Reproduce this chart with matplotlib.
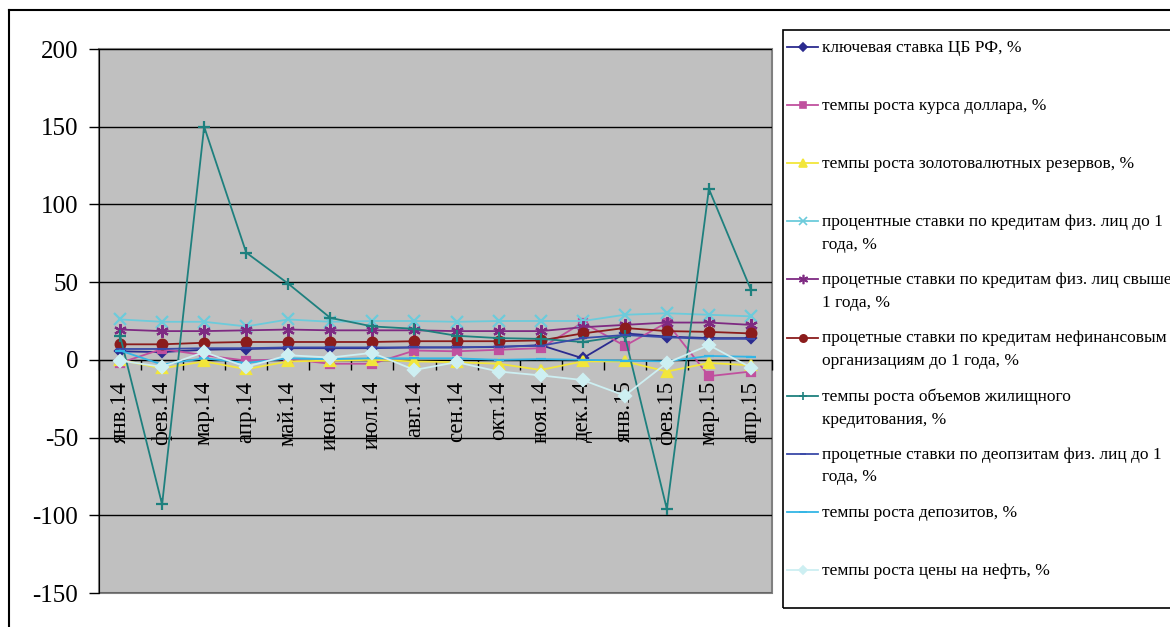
import numpy as np
import matplotlib.pyplot as plt
from matplotlib.lines import Line2D
from matplotlib.patches import Rectangle

plt.rcParams['font.family'] = ['Liberation Serif', 'DejaVu Serif']
plt.rcParams['axes.unicode_minus'] = False

months = ["янв.14", "фев.14", "мар.14", "апр.14", "май.14", "июн.14", "июл.14", "авг.14",
          "сен.14", "окт.14", "ноя.14", "дек.14", "янв.15", "фев.15", "мар.15", "апр.15"]

key_rate = [5.5, 5, 6.5, 7, 7.5, 7.5, 7.5, 8, 8, 8.25, 9.5, 1, 17, 15, 14, 14]
usd_growth = [-2, 7, 3, -0.5, 0.5, -2.5, -2.5, 6, 5.5, 6.5, 7.5, 24, 9, 24, -10.5, -7.5]
reserves_growth = [0, -5.5, -1, -6, -1, -0.5, 0, -1, -1.5, -2.5, -6.5, -1, -1, -7.5, -2, -3.5]
loans_short = [26, 24.5, 24.5, 21.5, 26, 24.5, 25, 25, 24.5, 25, 25, 25, 29, 30, 29, 28]
loans_long = [19.5, 18.5, 18.5, 19, 19.5, 19, 19, 19, 18.5, 18.5, 18.5, 21, 22.5, 24, 24, 22.5]
corp_loans = [10, 10, 11, 11.5, 11.5, 11.5, 11.5, 12, 12, 12, 12.5, 17, 20.5, 18.5, 18, 17]
mortgage_growth = [15.5, -93, 150, 69, 49, 27, 21.5, 20, 15.5, 14, 13.5, 11.5, 15.5, -96, 110, 45]
deposit_rates = [7, 7, 7.5, 7.5, 8, 8, 8, 8, 8, 8.5, 9, 14, 16, 14.5, 13.5, 13.5]
deposits_growth = [6, -3, 1, -2, 1, 0.5, 1, 1, 1, 0, 0.5, 0, -0.5, -1, 2.5, 2]
oil_growth = [-0.5, -4.5, 5, -4.5, 3, 1.5, 4.5, -6.5, -1.5, -7.5, -10, -13, -23, -2, 9.5, -5]

series = [key_rate, usd_growth, reserves_growth, loans_short, loans_long,
          corp_loans, mortgage_growth, deposit_rates, deposits_growth, oil_growth]

labels = ["ключевая ставка ЦБ РФ, %",
          "темпы роста курса доллара, %",
          "темпы роста золотовалютных резервов, %",
          "процентные ставки по кредитам физ. лиц до 1\nгода, %",
          "процетные ставки по кредитам физ. лиц свыше\n1 года, %",
          "процетные ставки по кредитам нефинансовым\nорганизациям до 1 года, %",
          "темпы роста объемов жилищного\nкредитования, %",
          "процетные ставки по деопзитам физ. лиц до 1\nгода, %",
          "темпы роста депозитов, %",
          "темпы роста цены на нефть, %"]

colors = ["#2B2B8F", "#C0509E", "#F2E63A", "#6CCBDB", "#7E2A82",
          "#8B1C1C", "#1E807E", "#3A4AA8", "#33B5E5", "#CDEFF2"]
markers = ["D", "s", "^", "x", (6, 2, 0), "o", "+", "_", "_", "D"]
msizes = [5, 6, 7, 8, 9, 7, 8, 6, 7, 6]

W, H = 1170, 627
fig = plt.figure(figsize=(W / 100, H / 100), dpi=100)

# outer chart border (runs off the right and bottom edges)
fig.add_artist(Line2D([9 / W, 9 / W], [-0.1, 1 - 10 / H], color="black", lw=1.5))
fig.add_artist(Line2D([9 / W, 1.1], [1 - 10 / H, 1 - 10 / H], color="black", lw=1.5))

ax = fig.add_axes([99 / W, 1 - 593 / H, (772 - 99) / W, (593 - 49) / H])
ax.set_facecolor("#C0C0C0")
x = np.arange(len(months))

for vals, lab, c, m, ms in zip(series, labels, colors, markers, msizes):
    ax.plot(x, vals, color=c, marker=m, markersize=ms, lw=1.3, zorder=3,
            markeredgecolor=c, markeredgewidth=1.6, label=lab, clip_on=False)

ax.set_xlim(-0.5, len(months) - 0.5)
ax.set_ylim(-150, 200)
ax.set_yticks(np.arange(-150, 201, 50))
ax.yaxis.grid(True, color="black", lw=1)
ax.set_axisbelow(True)
ax.tick_params(axis="y", direction="out", length=7, width=1, labelsize=18, pad=8)

# category axis crosses at zero
ax.spines["bottom"].set_position(("data", 0))
ax.spines["bottom"].set_color("black")
for s in ["top", "right"]:
    ax.spines[s].set_visible(False)
ax.set_xticks(np.arange(-0.5, len(months)), labels=[])
ax.set_xticks(x, labels=months, minor=True)
ax.tick_params(axis="x", which="major", direction="out", length=7, width=1)
ax.tick_params(axis="x", which="minor", length=0, labelsize=16.5, pad=15, labelrotation=90)
ax.add_patch(Rectangle((0, 0), 1, 1, transform=ax.transAxes, fill=False,
                       edgecolor="#808080", lw=1.5, clip_on=False, zorder=0.5))

# legend box, drawn by hand to keep the Excel layout
fig.add_artist(Rectangle((783 / W, 1 - 608 / H), 0.5, (608 - 30) / H,
                         transform=fig.transFigure, fill=False, edgecolor="black", lw=1.2))
for i, (lab, c, m, ms) in enumerate(zip(labels, colors, markers, msizes)):
    yy = 1 - (47 + 58.1 * i) / H
    fig.add_artist(Line2D([787 / W, 818 / W], [yy, yy], color=c, lw=1.3))
    fig.add_artist(Line2D([802.5 / W], [yy], color=c, marker=m, markersize=ms * 0.75,
                          markeredgecolor=c, markeredgewidth=1.2))
    fig.text(822 / W, yy + 7 / H, lab, fontsize=12.5, va="top", ha="left", linespacing=1.55)

fig.savefig("out.png", dpi=100)
